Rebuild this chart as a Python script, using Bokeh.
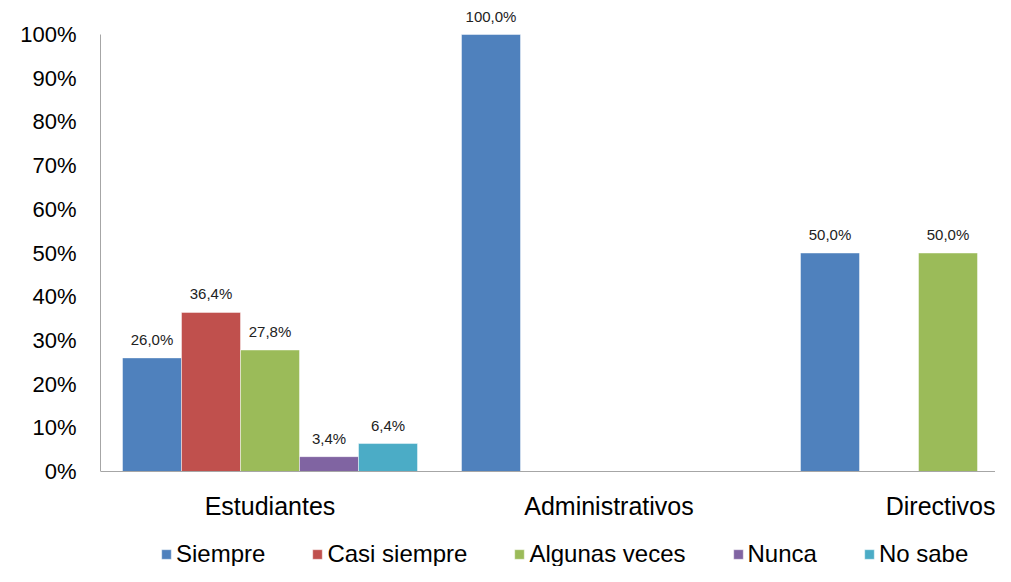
from bokeh.plotting import figure
from bokeh.models import ColumnDataSource, Range1d, FixedTicker, Legend, LegendItem, CustomJSTickFormatter
from bokeh.embed import file_html
from bokeh.resources import INLINE
from bokeh.core.properties import value

categories = ["Estudiantes", "Administrativos", "Directivos"]
series = ["Siempre", "Casi siempre", "Algunas veces", "Nunca", "No sabe"]
colors = ["#4F81BD", "#C0504D", "#9BBB59", "#8064A2", "#4BACC6"]
values = {
    "Siempre":       [26.0, 100.0, 50.0],
    "Casi siempre":  [36.4, 0.0, 0.0],
    "Algunas veces": [27.8, 0.0, 50.0],
    "Nunca":         [3.4, 0.0, 0.0],
    "No sabe":       [6.4, 0.0, 0.0],
}
y_ticks = [0, 10, 20, 30, 40, 50, 60, 70, 80, 90, 100]

FONT = "Liberation Sans"
W, H = 995, 566
unit = 339.0
bar_w = 59 / unit
ppu = 4.37  # pixels per percent

p = figure(width=W, height=H, output_backend="svg", toolbar_location=None,
           x_range=Range1d(0, 895 / unit),
           y_range=Range1d(-95 / ppu, 100 + 29 / ppu),
           min_border_left=100, min_border_right=0, min_border_top=5, min_border_bottom=0)
p.outline_line_color = None
p.xgrid.visible = False
p.ygrid.visible = False

items = []
for k, s in enumerate(series):
    off = (k - 2) * bar_w
    xs, ys, labels = [], [], []
    for i, c in enumerate(categories):
        v = values[s][i]
        if v > 0:
            xs.append(i + 0.5 + off)
            ys.append(v)
            labels.append(("%.1f" % v).replace(".", ",") + "%")
    src = ColumnDataSource(dict(x=xs, top=ys, label=labels))
    r = p.vbar(x="x", top="top", bottom=0, width=bar_w, source=src,
               fill_color=colors[k], line_color="white", line_alpha=0.45, line_width=1)
    p.text(x="x", y="top", text="label", source=src, text_align="center",
           text_baseline="bottom", y_offset=-10, text_font=value(FONT),
           text_font_size="15px", text_color="#222222")
    items.append(LegendItem(label=s, renderers=[r]))

# axes
p.yaxis.ticker = FixedTicker(ticks=y_ticks)
p.yaxis.formatter = CustomJSTickFormatter(code="return tick.toFixed(0) + '%';")
p.yaxis.bounds = (0, 100)
p.yaxis.major_label_text_font = FONT
p.yaxis.major_label_text_font_size = "22px"
p.yaxis.major_label_text_color = "black"
p.yaxis.major_label_standoff = 18
p.yaxis.axis_line_color = "#A6A6A6"
p.yaxis.axis_line_width = 1
p.yaxis.major_tick_line_color = None
p.yaxis.minor_tick_line_color = None

p.xaxis.fixed_location = 0
p.xaxis.ticker = FixedTicker(ticks=[i + 0.5 for i in range(len(categories))])
p.xaxis.major_label_overrides = {i + 0.5: c for i, c in enumerate(categories)}
p.xaxis.major_label_text_font = FONT
p.xaxis.major_label_text_font_size = "25px"
p.xaxis.major_label_text_color = "black"
p.xaxis.major_label_standoff = 14
p.xaxis.axis_line_color = "#A6A6A6"
p.xaxis.axis_line_width = 1
p.xaxis.major_tick_line_color = None
p.xaxis.minor_tick_line_color = None

legend = Legend(items=items, orientation="horizontal", location=(60, -2),
                label_text_font=FONT, label_text_font_size="24px",
                label_text_color="black", glyph_width=12, glyph_height=12,
                label_standoff=4, spacing=46, padding=0, margin=0,
                border_line_color=None, background_fill_alpha=0,
                label_height=20)
p.add_layout(legend)

open("out.html", "w").write(file_html(p, INLINE))
